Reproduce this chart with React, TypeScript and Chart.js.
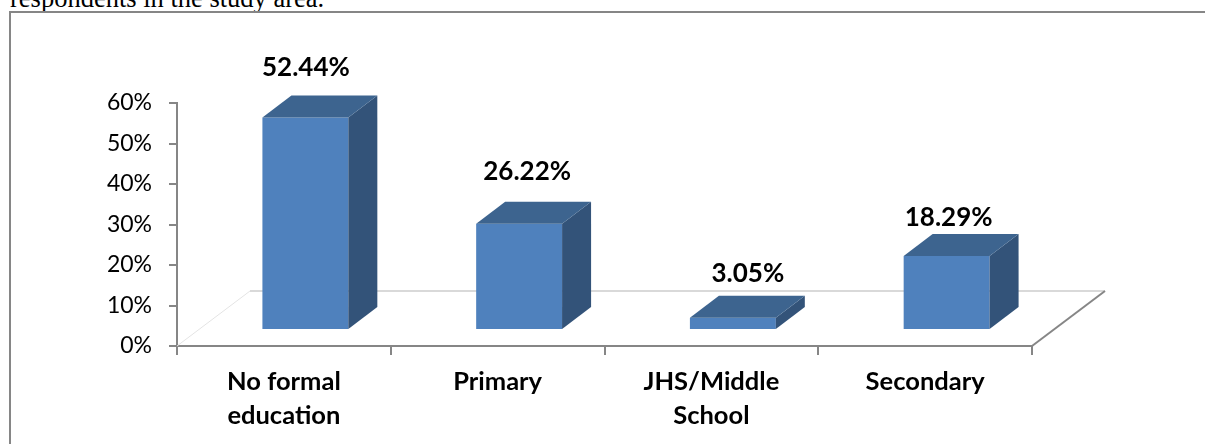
import React, { useEffect, useRef } from "react";
import { Chart, registerables } from "chart.js";

Chart.register(...registerables);

const categories = [["No formal", "education"], ["Primary"], ["JHS/Middle", "School"], ["Secondary"]];
const shareValues = [52.44, 26.22, 3.05, 18.29];
const shareLabels = ["52.44%", "26.22%", "3.05%", "18.29%"];
const axisMax = 60;
const axisStep = 10;

// bars stand part-way back on the floor
const floorDepth = { x: 73, y: 55 };
const barShift = { x: 21.5, y: -16 };
const barDepth = { x: 29, y: 22 };
const labelNudge = [
  { x: 0.5, y: -50 },
  { x: 8, y: -52 },
  { x: 15, y: -44 },
  { x: 2, y: -38 },
];

const FONT = "Lato, Carlito, Calibri, sans-serif";
const COLORS = {
  front: "#4F81BD",
  top: "#3D648F",
  side: "#335379",
  axis: "#868686",
  floor: "#D9D9D9",
  floorFaint: "#E4E4E4",
};

const box3dPlugin = {
  id: "box3d",
  beforeDatasetsDraw(chart: any) {
    const { ctx, chartArea: a } = chart;
    ctx.save();
    ctx.lineWidth = 1;
    ctx.strokeStyle = COLORS.floorFaint;
    ctx.beginPath();
    ctx.moveTo(a.left, a.bottom);
    ctx.lineTo(a.left + floorDepth.x, a.bottom - floorDepth.y);
    ctx.stroke();
    ctx.lineWidth = 2;
    ctx.strokeStyle = COLORS.floor;
    ctx.beginPath();
    ctx.moveTo(a.left + floorDepth.x, a.bottom - floorDepth.y);
    ctx.lineTo(a.right + floorDepth.x, a.bottom - floorDepth.y);
    ctx.stroke();
    ctx.lineWidth = 2;
    ctx.strokeStyle = COLORS.axis;
    ctx.beginPath();
    ctx.moveTo(a.right, a.bottom);
    ctx.lineTo(a.right + floorDepth.x, a.bottom - floorDepth.y);
    ctx.stroke();
    ctx.restore();
    ctx.save();
    ctx.translate(barShift.x, barShift.y);
  },
  afterDatasetsDraw(chart: any) {
    const { ctx } = chart;
    const bars = chart.getDatasetMeta(0).data;
    bars.forEach((bar: any) => {
      const { x, y, base, width } = bar.getProps(["x", "y", "base", "width"], true);
      const l = x - width / 2;
      const r = x + width / 2;
      ctx.fillStyle = COLORS.side;
      ctx.beginPath();
      ctx.moveTo(r, y);
      ctx.lineTo(r + barDepth.x, y - barDepth.y);
      ctx.lineTo(r + barDepth.x, base - barDepth.y);
      ctx.lineTo(r, base);
      ctx.closePath();
      ctx.fill();
      ctx.fillStyle = COLORS.top;
      ctx.beginPath();
      ctx.moveTo(l, y);
      ctx.lineTo(l + barDepth.x, y - barDepth.y);
      ctx.lineTo(r + barDepth.x, y - barDepth.y);
      ctx.lineTo(r, y);
      ctx.closePath();
      ctx.fill();
    });
    ctx.restore();
    ctx.save();
    ctx.fillStyle = "#000000";
    ctx.font = `bold 26px ${FONT}`;
    ctx.textAlign = "center";
    ctx.textBaseline = "middle";
    bars.forEach((bar: any, i: number) => {
      const { x, y } = bar.getProps(["x", "y"], true);
      ctx.fillText(shareLabels[i], x + barShift.x + labelNudge[i].x, y + barShift.y + labelNudge[i].y);
    });
    ctx.restore();
  },
};

export default function App() {
  const ref = useRef<HTMLCanvasElement | null>(null);
  useEffect(() => {
    if (!ref.current) return;
    const chart = new Chart(ref.current, {
      type: "bar",
      data: {
        labels: categories as any,
        datasets: [
          {
            label: "Share of respondents",
            data: shareValues,
            backgroundColor: COLORS.front,
            borderWidth: 0,
            categoryPercentage: 1,
            barPercentage: 0.402,
            clip: false as any,
          },
        ],
      },
      options: {
        responsive: false,
        animation: false,
        events: [],
        layout: { padding: { top: 103, right: 173, left: 0, bottom: 0 } },
        plugins: { legend: { display: false }, title: { display: false }, tooltip: { enabled: false } },
        scales: {
          x: {
            afterFit(scale: any) {
              scale.height = 98;
            },
            border: { display: true, color: COLORS.axis, width: 2 },
            grid: { display: true, drawOnChartArea: false, drawTicks: true, tickLength: 9, color: COLORS.axis, lineWidth: 2 },
            ticks: {
              color: "#000000",
              font: { family: FONT, size: 25.5, weight: "bold", lineHeight: 1.33 },
              padding: 10,
              maxRotation: 0,
              autoSkip: false,
            },
          },
          y: {
            min: 0,
            max: axisMax,
            afterFit(scale: any) {
              scale.width = 177;
            },
            border: { display: true, color: COLORS.axis, width: 2 },
            grid: { display: true, drawOnChartArea: false, drawTicks: true, tickLength: 8, color: COLORS.axis, lineWidth: 2 },
            ticks: {
              stepSize: axisStep,
              color: "#000000",
              font: { family: FONT, size: 23 },
              padding: 17,
              callback: (v: any) => `${v}%`,
            },
          },
        },
      },
      plugins: [box3dPlugin as any],
    });
    return () => chart.destroy();
  }, []);

  return (
    <div style={{ position: "fixed", left: 0, top: 0, width: 1205, height: 444, overflow: "hidden", background: "#fff" }}>
      <div
        style={{
          position: "absolute",
          left: 10,
          top: -16,
          fontFamily: "'Liberation Serif', serif",
          fontSize: 26.5,
          lineHeight: "28px",
          whiteSpace: "nowrap",
          color: "#000",
        }}
      >
        respondents in the study area.
      </div>
      <div
        style={{
          position: "absolute",
          left: 9,
          top: 11,
          width: 1220,
          height: 460,
          border: "2px solid #868686",
          boxSizing: "border-box",
        }}
      />
      <canvas ref={ref} width={1205} height={444} style={{ position: "absolute", left: 0, top: 0, display: "block" }} />
    </div>
  );
}
